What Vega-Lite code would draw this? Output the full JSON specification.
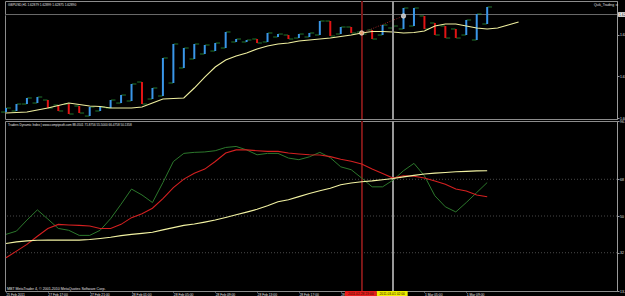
{
  "$schema": "https://vega.github.io/schema/vega-lite/v6.json",
  "padding": 0,
  "background": "#000000",
  "spacing": 2,
  "bounds": "flush",
  "config": {
    "view": {"stroke": "#8c8c8c", "fill": "#000000"},
    "axis": {"labelColor": "#e0e0e0", "labelFont": "Liberation Sans", "labelFontSize": 3.4, "tickColor": "#9a9a9a", "domainColor": "#9a9a9a", "grid": false},
    "text": {"font": "Liberation Sans"}
  },
  "datasets": {
    "bars": [
      {"i":0,"o":1.61015,"c":1.61092,"dir":"up"},
      {"i":1,"o":1.61035,"c":1.61169,"dir":"up"},
      {"i":2,"o":1.61169,"c":1.61285,"dir":"up"},
      {"i":3,"o":1.61188,"c":1.61304,"dir":"up"},
      {"i":4,"o":1.61246,"c":1.61092,"dir":"down"},
      {"i":5,"o":1.6115,"c":1.61035,"dir":"down"},
      {"i":6,"o":1.61169,"c":1.60977,"dir":"down"},
      {"i":7,"o":1.61131,"c":1.60996,"dir":"down"},
      {"i":8,"o":1.60938,"c":1.61112,"dir":"up"},
      {"i":9,"o":1.61035,"c":1.61112,"dir":"up"},
      {"i":10,"o":1.61092,"c":1.61246,"dir":"up"},
      {"i":11,"o":1.61188,"c":1.61342,"dir":"up"},
      {"i":12,"o":1.61227,"c":1.61554,"dir":"up"},
      {"i":13,"o":1.61592,"c":1.61169,"dir":"down"},
      {"i":14,"o":1.61265,"c":1.61477,"dir":"up"},
      {"i":15,"o":1.61323,"c":1.62054,"dir":"up"},
      {"i":16,"o":1.61573,"c":1.62323,"dir":"up"},
      {"i":17,"o":1.61862,"c":1.62246,"dir":"up"},
      {"i":18,"o":1.62035,"c":1.62323,"dir":"up"},
      {"i":19,"o":1.62131,"c":1.62304,"dir":"up"},
      {"i":20,"o":1.62188,"c":1.62342,"dir":"up"},
      {"i":21,"o":1.62246,"c":1.62554,"dir":"up"},
      {"i":22,"o":1.62362,"c":1.62419,"dir":"up"},
      {"i":23,"o":1.62362,"c":1.624,"dir":"up"},
      {"i":24,"o":1.62419,"c":1.62342,"dir":"down"},
      {"i":25,"o":1.62362,"c":1.62535,"dir":"up"},
      {"i":26,"o":1.62458,"c":1.62515,"dir":"up"},
      {"i":27,"o":1.62496,"c":1.62419,"dir":"down"},
      {"i":28,"o":1.62438,"c":1.62515,"dir":"up"},
      {"i":29,"o":1.62458,"c":1.62535,"dir":"up"},
      {"i":30,"o":1.62496,"c":1.62765,"dir":"up"},
      {"i":31,"o":1.62765,"c":1.62477,"dir":"down"},
      {"i":32,"o":1.62515,"c":1.6265,"dir":"up"},
      {"i":33,"o":1.6265,"c":1.62535,"dir":"down"},
      {"i":34,"o":1.62554,"c":1.62515,"dir":"down"},
      {"i":35,"o":1.62592,"c":1.62419,"dir":"down"},
      {"i":36,"o":1.62496,"c":1.62688,"dir":"up"},
      {"i":37,"o":1.62631,"c":1.62669,"dir":"up"},
      {"i":38,"o":1.62612,"c":1.63015,"dir":"up"},
      {"i":39,"o":1.62669,"c":1.63015,"dir":"up"},
      {"i":40,"o":1.62862,"c":1.62612,"dir":"down"},
      {"i":41,"o":1.62727,"c":1.62496,"dir":"down"},
      {"i":42,"o":1.62669,"c":1.62438,"dir":"down"},
      {"i":43,"o":1.62612,"c":1.62438,"dir":"down"},
      {"i":44,"o":1.62496,"c":1.62785,"dir":"up"},
      {"i":45,"o":1.624,"c":1.629,"dir":"up"},
      {"i":46,"o":1.62708,"c":1.63035,"dir":"up"}
    ],
    "ma": [
      {"i":0,"p":1.60996},{"i":1,"p":1.61006},{"i":2,"p":1.61015},{"i":3,"p":1.61054},{"i":4,"p":1.61092},
      {"i":5,"p":1.6114},{"i":6,"p":1.61188},{"i":7,"p":1.6116},{"i":8,"p":1.61131},{"i":9,"p":1.61121},
      {"i":10,"p":1.61092},{"i":11,"p":1.61092},{"i":12,"p":1.61092},{"i":13,"p":1.61112},{"i":14,"p":1.61188},
      {"i":15,"p":1.61265},{"i":16,"p":1.61275},{"i":17,"p":1.61285},{"i":18,"p":1.61477},{"i":19,"p":1.61688},
      {"i":20,"p":1.61881},{"i":21,"p":1.62015},{"i":22,"p":1.62092},{"i":23,"p":1.6215},{"i":24,"p":1.62227},
      {"i":25,"p":1.62285},{"i":26,"p":1.62323},{"i":27,"p":1.62342},{"i":28,"p":1.62381},{"i":29,"p":1.624},
      {"i":30,"p":1.62419},{"i":31,"p":1.62438},{"i":32,"p":1.62467},{"i":33,"p":1.62496},{"i":34,"p":1.62535},
      {"i":35,"p":1.62563},{"i":36,"p":1.62563},{"i":37,"p":1.62554},{"i":38,"p":1.62535},{"i":39,"p":1.62544},
      {"i":40,"p":1.62573},{"i":41,"p":1.62669},{"i":42,"p":1.62708},{"i":43,"p":1.62708},{"i":44,"p":1.62669},
      {"i":45,"p":1.62631},{"i":46,"p":1.62612},{"i":47,"p":1.62631},{"i":48,"p":1.62688},{"i":49,"p":1.62746}
    ],
    "trend": [
      {"i":34,"p":1.62535,"k":"a"},
      {"i":38,"p":1.62862,"k":"b"}
    ],
    "levels": [{"v":32},{"v":50},{"v":68}],
    "tdi": [
      {"i":0,"g":41.0,"r":29.5,"y":36.5},
      {"i":1,"g":42.6,"r":32.8,"y":37.3},
      {"i":2,"g":48.0,"r":36.1,"y":37.8},
      {"i":3,"g":53.0,"r":40.1,"y":38.1},
      {"i":4,"g":48.5,"r":43.9,"y":38.2},
      {"i":5,"g":43.9,"r":45.9,"y":38.2},
      {"i":6,"g":43.0,"r":45.6,"y":38.2},
      {"i":7,"g":40.5,"r":45.4,"y":38.2},
      {"i":8,"g":40.5,"r":45.1,"y":38.5},
      {"i":9,"g":43.0,"r":43.9,"y":39.0},
      {"i":10,"g":48.7,"r":43.9,"y":39.6},
      {"i":11,"g":55.8,"r":45.9,"y":40.4},
      {"i":12,"g":63.2,"r":49.2,"y":41.0},
      {"i":13,"g":60.3,"r":51.1,"y":41.5},
      {"i":14,"g":56.6,"r":53.8,"y":42.0},
      {"i":15,"g":66.4,"r":58.5,"y":43.2},
      {"i":16,"g":76.7,"r":63.9,"y":44.3},
      {"i":17,"g":80.7,"r":68.1,"y":45.4},
      {"i":18,"g":81.2,"r":71.0,"y":46.1},
      {"i":19,"g":81.4,"r":73.0,"y":47.0},
      {"i":20,"g":82.0,"r":76.7,"y":48.0},
      {"i":21,"g":83.6,"r":80.9,"y":49.3},
      {"i":22,"g":84.1,"r":82.4,"y":50.6},
      {"i":23,"g":82.4,"r":82.4,"y":51.9},
      {"i":24,"g":80.0,"r":82.0,"y":53.3},
      {"i":25,"g":80.7,"r":81.7,"y":55.0},
      {"i":26,"g":80.7,"r":81.7,"y":57.0},
      {"i":27,"g":78.4,"r":80.9,"y":58.0},
      {"i":28,"g":77.6,"r":80.4,"y":59.5},
      {"i":29,"g":79.0,"r":80.0,"y":61.0},
      {"i":30,"g":81.2,"r":79.9,"y":62.4},
      {"i":31,"g":78.6,"r":79.1,"y":63.6},
      {"i":32,"g":74.1,"r":77.8,"y":65.3},
      {"i":33,"g":72.7,"r":76.8,"y":66.2},
      {"i":34,"g":68.6,"r":75.5,"y":66.8},
      {"i":35,"g":64.3,"r":73.0,"y":67.2},
      {"i":36,"g":64.3,"r":70.8,"y":67.8},
      {"i":37,"g":67.6,"r":68.6,"y":68.4},
      {"i":38,"g":72.2,"r":69.7,"y":69.2},
      {"i":39,"g":75.8,"r":69.5,"y":69.9},
      {"i":40,"g":69.7,"r":68.6,"y":70.6},
      {"i":41,"g":59.9,"r":67.2,"y":71.0},
      {"i":42,"g":54.5,"r":65.6,"y":71.3},
      {"i":43,"g":52.0,"r":63.2,"y":71.7},
      {"i":44,"g":56.6,"r":62.3,"y":71.9},
      {"i":45,"g":61.5,"r":60.3,"y":72.1},
      {"i":46,"g":66.4,"r":59.4,"y":72.2}
    ]
  },
  "vconcat": [
    {
      "width": 612,
      "height": 118,
      "layer": [
        {
          "data": {"name": "bars"},
          "mark": {"type": "rule", "color": "#6a6a6a", "strokeWidth": 0.8},
          "encoding": {
            "y": {"datum": 1.6289, "type": "quantitative", "scale": {"domain": [1.60881, 1.6315], "nice": false, "zero": false},
              "title": null,
              "axis": {"orient": "right", "values": [1.609, 1.611, 1.613, 1.615, 1.617, 1.619, 1.621, 1.623, 1.625, 1.627], "format": ".5f", "tickSize": 2, "labelPadding": 0.5, "labelFontSize": 3.4, "title": null}}
          }
        },
        {
          "data": {"name": "bars"},
          "mark": {"type": "tick", "orient": "horizontal", "size": 4.5, "thickness": 1, "xOffset": -2.6, "color": "#2fa83f"},
          "encoding": {
            "x": {"field": "i", "type": "quantitative", "scale": {"domain": [-0.096, 58.41], "nice": false, "zero": false}, "axis": null, "title": null},
            "y": {"field": "o", "type": "quantitative", "scale": {"domain": [1.60881, 1.6315], "nice": false, "zero": false}, "title": null}
          }
        },
        {
          "data": {"name": "bars"},
          "mark": {"type": "tick", "orient": "horizontal", "size": 4.5, "thickness": 1, "xOffset": 2.6, "color": "#2fa83f"},
          "encoding": {
            "x": {"field": "i", "type": "quantitative", "scale": {"domain": [-0.096, 58.41], "nice": false, "zero": false}, "axis": null, "title": null},
            "y": {"field": "c", "type": "quantitative", "scale": {"domain": [1.60881, 1.6315], "nice": false, "zero": false}, "title": null}
          }
        },
        {
          "data": {"name": "bars"},
          "mark": {"type": "rule", "strokeWidth": 2},
          "encoding": {
            "x": {"field": "i", "type": "quantitative", "scale": {"domain": [-0.096, 58.41], "nice": false, "zero": false}, "axis": null, "title": null},
            "y": {"field": "o", "type": "quantitative", "scale": {"domain": [1.60881, 1.6315], "nice": false, "zero": false}, "title": null},
            "y2": {"field": "c"},
            "color": {"field": "dir", "type": "nominal", "scale": {"domain": ["up", "down"], "range": ["#3a96e8", "#e01414"]}, "legend": null}
          }
        },
        {
          "data": {"name": "ma"},
          "mark": {"type": "line", "color": "#f0f0a0", "strokeWidth": 1.1},
          "encoding": {
            "x": {"field": "i", "type": "quantitative", "scale": {"domain": [-0.096, 58.41], "nice": false, "zero": false}, "axis": null, "title": null},
            "y": {"field": "p", "type": "quantitative", "scale": {"domain": [1.60881, 1.6315], "nice": false, "zero": false}, "title": null}
          }
        },
        {
          "data": {"name": "trend"},
          "mark": {"type": "line", "color": "#c03030", "strokeWidth": 0.8, "strokeDash": [1, 1.5]},
          "encoding": {
            "x": {"field": "i", "type": "quantitative", "scale": {"domain": [-0.096, 58.41], "nice": false, "zero": false}, "axis": null, "title": null},
            "y": {"field": "p", "type": "quantitative", "scale": {"domain": [1.60881, 1.6315], "nice": false, "zero": false}, "title": null}
          }
        },
        {
          "data": {"name": "bars"},
          "mark": {"type": "rule", "color": "#7e1c1c", "strokeWidth": 0.7},
          "encoding": {
            "x": {"datum": 34, "type": "quantitative", "scale": {"domain": [-0.096, 58.41], "nice": false, "zero": false}, "axis": null, "title": null}
          }
        },
        {
          "data": {"name": "bars"},
          "mark": {"type": "rule", "color": "#9a9a9a", "strokeWidth": 0.7},
          "encoding": {
            "x": {"datum": 37, "type": "quantitative", "scale": {"domain": [-0.096, 58.41], "nice": false, "zero": false}, "axis": null, "title": null}
          }
        },
        {
          "data": {"name": "trend"},
          "mark": {"type": "point", "filled": true, "size": 20, "opacity": 1, "stroke": "#f0f0f0", "strokeWidth": 0.6},
          "encoding": {
            "x": {"field": "i", "type": "quantitative", "scale": {"domain": [-0.096, 58.41], "nice": false, "zero": false}, "axis": null, "title": null},
            "y": {"field": "p", "type": "quantitative", "scale": {"domain": [1.60881, 1.6315], "nice": false, "zero": false}, "title": null},
            "fill": {"field": "k", "type": "nominal", "scale": {"domain": ["a", "b"], "range": ["#e0a070", "#b8b8b8"]}, "legend": null}
          }
        },
        {
          "data": {"values": [{"t": "GBPUSD,H1  1.62879 1.62899 1.62875 1.62890"}]},
          "mark": {"type": "text", "align": "left", "baseline": "middle", "fontSize": 3.2, "color": "#e0e0e0"},
          "encoding": {
            "x": {"datum": 0.2, "type": "quantitative", "scale": {"domain": [-0.096, 58.41], "nice": false, "zero": false}, "axis": null, "title": null},
            "y": {"datum": 1.63073, "type": "quantitative", "scale": {"domain": [1.60881, 1.6315], "nice": false, "zero": false}, "title": null},
            "text": {"field": "t"}
          }
        },
        {
          "data": {"values": [{"t": "Quik_Trading ☺"}]},
          "mark": {"type": "text", "align": "left", "baseline": "middle", "fontSize": 3.4, "color": "#e0e0e0"},
          "encoding": {
            "x": {"datum": 56.2, "type": "quantitative", "scale": {"domain": [-0.096, 58.41], "nice": false, "zero": false}, "axis": null, "title": null},
            "y": {"datum": 1.63073, "type": "quantitative", "scale": {"domain": [1.60881, 1.6315], "nice": false, "zero": false}, "title": null},
            "text": {"field": "t"}
          }
        },
        {
          "data": {"values": [{"t": "1.62890"}]},
          "mark": {"type": "rect", "color": "#f0f0f0"},
          "encoding": {
            "x": {"datum": 58.52, "type": "quantitative", "scale": {"domain": [-0.096, 58.41], "nice": false, "zero": false}, "axis": null, "title": null},
            "x2": {"datum": 59.9},
            "y": {"datum": 1.62935, "type": "quantitative", "scale": {"domain": [1.60881, 1.6315], "nice": false, "zero": false}, "title": null},
            "y2": {"datum": 1.62845}
          }
        },
        {
          "data": {"values": [{"t": "1.62890"}]},
          "mark": {"type": "text", "align": "left", "baseline": "middle", "fontSize": 3.4, "color": "#000000"},
          "encoding": {
            "x": {"datum": 58.6, "type": "quantitative", "scale": {"domain": [-0.096, 58.41], "nice": false, "zero": false}, "axis": null, "title": null},
            "y": {"datum": 1.6289, "type": "quantitative", "scale": {"domain": [1.60881, 1.6315], "nice": false, "zero": false}, "title": null},
            "text": {"field": "t"}
          }
        }
      ]
    },
    {
      "width": 612,
      "height": 170,
      "layer": [
        {
          "data": {"name": "levels"},
          "mark": {"type": "rule", "color": "#5c5c5c", "strokeWidth": 0.8, "strokeDash": [1, 2]},
          "encoding": {
            "y": {"field": "v", "type": "quantitative", "scale": {"domain": [13.24, 96.57], "nice": false, "zero": false}, "title": null,
              "axis": {"orient": "right", "values": [13.24, 32, 50, 68, 96.57], "labelExpr": "datum.value == 32 || datum.value == 50 || datum.value == 68 ? format(datum.value, 'd') : format(datum.value, '.4f')", "tickSize": 2, "labelPadding": 0.5, "labelFontSize": 3.4, "title": null,
                "encode": {"labels": {"update": {"baseline": {"signal": "datum.value > 90 ? 'top' : datum.value < 20 ? 'bottom' : 'middle'"}}}}}}
          }
        },
        {
          "data": {"name": "tdi"},
          "mark": {"type": "rule", "color": "#7e1c1c", "strokeWidth": 0.7},
          "encoding": {
            "x": {"datum": 34, "type": "quantitative", "scale": {"domain": [-0.096, 58.41], "nice": false, "zero": false}, "title": null,
              "axis": {"orient": "bottom", "values": [0,2,4,6,8,10,12,14,16,18,20,22,24,26,28,30,32,34,36,38,40,42,44,46],
                "labelExpr": "['25 Feb 2011','25 Feb 18:00','27 Feb 17:00','27 Feb 19:00','27 Feb 21:00','27 Feb 23:00','28 Feb 01:00','28 Feb 03:00','28 Feb 05:00','28 Feb 07:00','28 Feb 09:00','28 Feb 11:00','28 Feb 13:00','28 Feb 15:00','28 Feb 17:00','28 Feb 19:00','28 Feb 21:00','28 Feb 23:00','1 Mar 01:00','1 Mar 03:00','1 Mar 05:00','1 Mar 07:00','1 Mar 09:00','1 Mar 11:00'][round(datum.value / 2)]",
                "labelAlign": "left", "labelBaseline": "top", "labelFontSize": 3.3, "labelPadding": 0, "tickSize": 1, "domain": false, "labelFlush": false, "labelOverlap": false, "title": null}}
          }
        },
        {
          "data": {"name": "tdi"},
          "mark": {"type": "rule", "color": "#9a9a9a", "strokeWidth": 0.7},
          "encoding": {
            "x": {"datum": 37, "type": "quantitative", "scale": {"domain": [-0.096, 58.41], "nice": false, "zero": false}, "title": null}
          }
        },
        {
          "data": {"name": "tdi"},
          "mark": {"type": "line", "color": "#2c782c", "strokeWidth": 1},
          "encoding": {
            "x": {"field": "i", "type": "quantitative", "scale": {"domain": [-0.096, 58.41], "nice": false, "zero": false}, "title": null},
            "y": {"field": "g", "type": "quantitative", "scale": {"domain": [13.24, 96.57], "nice": false, "zero": false}, "title": null}
          }
        },
        {
          "data": {"name": "tdi"},
          "mark": {"type": "line", "color": "#d42020", "strokeWidth": 1.1},
          "encoding": {
            "x": {"field": "i", "type": "quantitative", "scale": {"domain": [-0.096, 58.41], "nice": false, "zero": false}, "title": null},
            "y": {"field": "r", "type": "quantitative", "scale": {"domain": [13.24, 96.57], "nice": false, "zero": false}, "title": null}
          }
        },
        {
          "data": {"name": "tdi"},
          "mark": {"type": "line", "color": "#f2f2a2", "strokeWidth": 1.1},
          "encoding": {
            "x": {"field": "i", "type": "quantitative", "scale": {"domain": [-0.096, 58.41], "nice": false, "zero": false}, "title": null},
            "y": {"field": "y", "type": "quantitative", "scale": {"domain": [13.24, 96.57], "nice": false, "zero": false}, "title": null}
          }
        },
        {
          "data": {"values": [{"t": "Traders Dynamic Index | www.compipsoft.com   88.0501 71.8756 55.5000 66.4758 50.1358"}]},
          "mark": {"type": "text", "align": "left", "baseline": "middle", "fontSize": 3.1, "color": "#e0e0e0"},
          "encoding": {
            "x": {"datum": 0.2, "type": "quantitative", "scale": {"domain": [-0.096, 58.41], "nice": false, "zero": false}, "title": null},
            "y": {"datum": 94.6, "type": "quantitative", "scale": {"domain": [13.24, 96.57], "nice": false, "zero": false}, "title": null},
            "text": {"field": "t"}
          }
        },
        {
          "data": {"values": [{"t": "MBT MetaTrader 4, © 2001-2010 MetaQuotes Software Corp."}]},
          "mark": {"type": "text", "align": "left", "baseline": "middle", "fontSize": 3.6, "color": "#e0e0e0"},
          "encoding": {
            "x": {"datum": 0.1, "type": "quantitative", "scale": {"domain": [-0.096, 58.41], "nice": false, "zero": false}, "title": null},
            "y": {"datum": 14.3, "type": "quantitative", "scale": {"domain": [13.24, 96.57], "nice": false, "zero": false}, "title": null},
            "text": {"field": "t"}
          }
        },
        {
          "data": {"values": [{"t": "2011.02.28 23:00", "a": 32.4, "b": 35.45}]},
          "mark": {"type": "rect", "color": "#e81c1c"},
          "encoding": {
            "x": {"field": "a", "type": "quantitative", "scale": {"domain": [-0.096, 58.41], "nice": false, "zero": false}, "title": null},
            "x2": {"field": "b"},
            "y": {"datum": 13.24, "type": "quantitative", "scale": {"domain": [13.24, 96.57], "nice": false, "zero": false}, "title": null},
            "y2": {"datum": 10.3}
          }
        },
        {
          "data": {"values": [{"t": "2011.03.01 02:00", "a": 35.45, "b": 38.4}]},
          "mark": {"type": "rect", "color": "#f0f000"},
          "encoding": {
            "x": {"field": "a", "type": "quantitative", "scale": {"domain": [-0.096, 58.41], "nice": false, "zero": false}, "title": null},
            "x2": {"field": "b"},
            "y": {"datum": 13.24, "type": "quantitative", "scale": {"domain": [13.24, 96.57], "nice": false, "zero": false}, "title": null},
            "y2": {"datum": 10.3}
          }
        },
        {
          "data": {"values": [{"t": "2011.02.28 23:00", "m": 33.92}, {"t": "2011.03.01 02:00", "m": 36.92}]},
          "mark": {"type": "text", "align": "center", "baseline": "middle", "fontSize": 3.3, "color": "#301000"},
          "encoding": {
            "x": {"field": "m", "type": "quantitative", "scale": {"domain": [-0.096, 58.41], "nice": false, "zero": false}, "title": null},
            "y": {"datum": 11.75, "type": "quantitative", "scale": {"domain": [13.24, 96.57], "nice": false, "zero": false}, "title": null},
            "text": {"field": "t"}
          }
        }
      ]
    }
  ]
}
